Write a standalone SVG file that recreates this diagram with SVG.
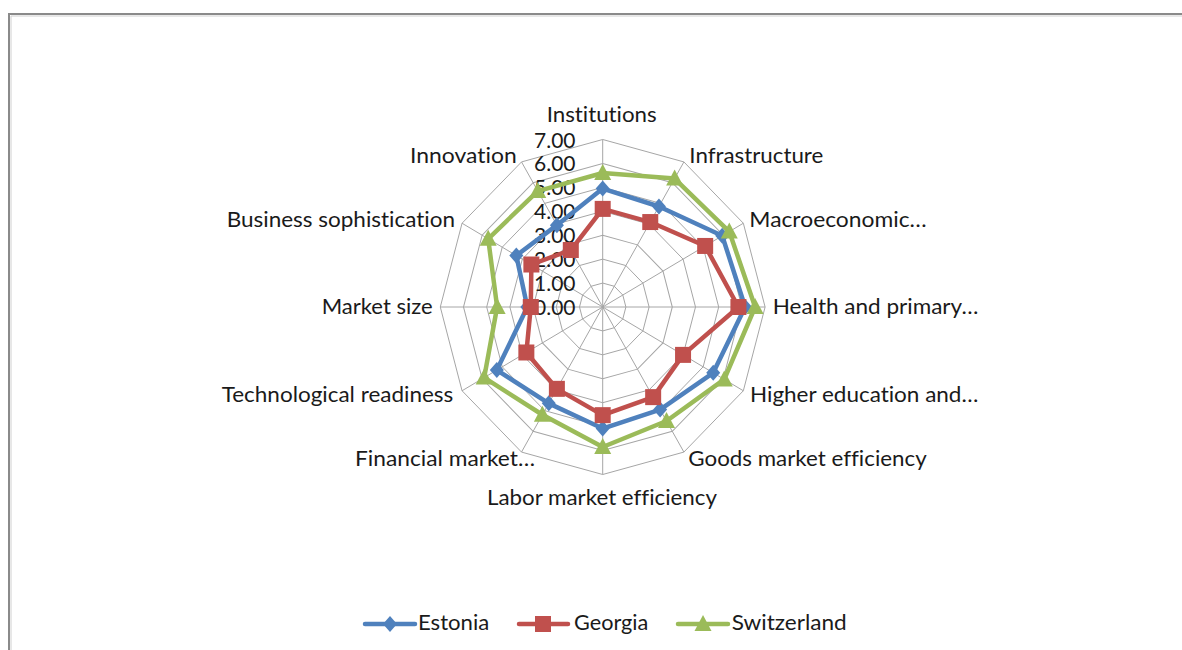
<svg xmlns="http://www.w3.org/2000/svg" xmlns:xlink="http://www.w3.org/1999/xlink" width="1182" height="650" viewBox="0 0 1182 650">
<style>
text{font-family:Lato,"Open Sans","Liberation Sans",sans-serif;font-size:21px;fill:#1a1a1a;font-variant-ligatures:none}
.grid{fill:none;stroke:#a6a6a6;stroke-width:1;vector-effect:non-scaling-stroke}
.est{fill:none;stroke:#4F81BD;stroke-width:4.5;stroke-linejoin:round;stroke-linecap:round}
.geo{fill:none;stroke:#C0504D;stroke-width:4.5;stroke-linejoin:round;stroke-linecap:round}
.swi{fill:none;stroke:#9BBB59;stroke-width:4.5;stroke-linejoin:round;stroke-linecap:round}
</style>
<defs>
<polygon id="ring" class="grid" points="0,-1 .5,-.866 .866,-.5 1,0 .866,.5 .5,.866 0,1 -.5,.866 -.866,.5 -1,0 -.866,-.5 -.5,-.866"/>
<path id="dia" d="M0,-8 L7,0 L0,8 L-7,0Z" fill="#4F81BD"/>
<rect id="sq" x="-8" y="-8" width="16" height="16" fill="#C0504D"/>
<path id="tri" d="M0,-9 L8.5,7 L-8.5,7Z" fill="#9BBB59"/>
</defs>
<rect width="1182" height="650" fill="#fff"/>
<g id="frame">
<path d="M9,650 V14 H1182" fill="none" stroke="#8a8a8a" stroke-width="2"/>
<path d="M11,650 V16 H1182" fill="none" stroke="#d0d0d0" stroke-width="1"/>
</g>
<g id="grid" transform="translate(602.7 307) scale(23.2 23.93)">
<use href="#ring" transform="scale(1)"/>
<use href="#ring" transform="scale(2)"/>
<use href="#ring" transform="scale(3)"/>
<use href="#ring" transform="scale(4)"/>
<use href="#ring" transform="scale(5)"/>
<use href="#ring" transform="scale(6)"/>
<use href="#ring" transform="scale(7)"/>
<path class="grid" d="M0,0 L0,-7 M0,0 L3.5,-6.062 M0,0 L6.062,-3.5 M0,0 L7,0 M0,0 L6.062,3.5 M0,0 L3.5,6.062 M0,0 L0,7 M0,0 L-3.5,6.062 M0,0 L-6.062,3.5 M0,0 L-7,0 M0,0 L-6.062,-3.5 M0,0 L-3.5,-6.062"/>
</g>
<g id="ticks" text-anchor="end">
<text x="575.5" y="315">0.00</text>
<text x="575.5" y="291.1">1.00</text>
<text x="575.5" y="267.1">2.00</text>
<text x="575.5" y="243.2">3.00</text>
<text x="575.5" y="219.3">4.00</text>
<text x="575.5" y="195.4">5.00</text>
<text x="575.5" y="171.4">6.00</text>
<text x="575.5" y="147.5">7.00</text>
</g>
<g id="axis-labels">
<text x="546.7" y="122" textLength="110" lengthAdjust="spacingAndGlyphs">Institutions</text>
<text x="689.3" y="162.7" textLength="134" lengthAdjust="spacingAndGlyphs">Infrastructure</text>
<text x="749.3" y="227.3" textLength="177.4" lengthAdjust="spacingAndGlyphs">Macroeconomic…</text>
<text x="772.7" y="314" textLength="205.6" lengthAdjust="spacingAndGlyphs">Health and primary…</text>
<text x="750" y="401.7" textLength="228.3" lengthAdjust="spacingAndGlyphs">Higher education and…</text>
<text x="688.3" y="465.7" textLength="238.4" lengthAdjust="spacingAndGlyphs">Goods market efficiency</text>
<text x="487" y="505" textLength="230" lengthAdjust="spacingAndGlyphs">Labor market efficiency</text>
<text x="355" y="465.7" textLength="180" lengthAdjust="spacingAndGlyphs">Financial market…</text>
<text x="221.7" y="401.7" textLength="231.6" lengthAdjust="spacingAndGlyphs">Technological readiness</text>
<text x="321.7" y="314" textLength="111" lengthAdjust="spacingAndGlyphs">Market size</text>
<text x="226.7" y="227.3" textLength="228.3" lengthAdjust="spacingAndGlyphs">Business sophistication</text>
<text x="410" y="162.7" textLength="106.7" lengthAdjust="spacingAndGlyphs">Innovation</text>
</g>
<g id="series-estonia">
<polygon class="est" points="602.7,188.55 658.96,206.51 722.24,235.78 745.15,307 713.2,372.84 660.12,409.56 602.7,428.56 548.76,403.35 496.83,370.08 527.3,307 516.31,255.53 556.88,225.16"/>
<use href="#dia" x="602.7" y="188.55"/><use href="#dia" x="658.96" y="206.51"/><use href="#dia" x="722.24" y="235.78"/><use href="#dia" x="745.15" y="307"/><use href="#dia" x="713.2" y="372.84"/><use href="#dia" x="660.12" y="409.56"/><use href="#dia" x="602.7" y="428.56"/><use href="#dia" x="548.76" y="403.35"/><use href="#dia" x="496.83" y="370.08"/><use href="#dia" x="527.3" y="307"/><use href="#dia" x="516.31" y="255.53"/><use href="#dia" x="556.88" y="225.16"/>
</g>
<g id="series-georgia">
<polygon class="geo" points="602.7,208.89 650.26,222.05 705.16,245.95 738.42,307 683.06,354.88 653.16,397.13 602.7,415.16 556.88,388.84 526.36,352.49 530.78,307 531.38,264.51 570.8,250.02"/>
<use href="#sq" x="602.7" y="208.89"/><use href="#sq" x="650.26" y="222.05"/><use href="#sq" x="705.16" y="245.95"/><use href="#sq" x="738.42" y="307"/><use href="#sq" x="683.06" y="354.88"/><use href="#sq" x="653.16" y="397.13"/><use href="#sq" x="602.7" y="415.16"/><use href="#sq" x="556.88" y="388.84"/><use href="#sq" x="526.36" y="352.49"/><use href="#sq" x="530.78" y="307"/><use href="#sq" x="531.38" y="264.51"/><use href="#sq" x="570.8" y="250.02"/>
</g>
<g id="series-switzerland">
<polygon class="swi" points="602.7,172.99 674.62,178.54 729.27,231.59 755.12,307 724.24,379.42 666.5,420.96 602.7,446.99 542.38,414.74 484.17,377.62 497.14,307 488.19,238.77 537.74,191.1"/>
<use href="#tri" x="602.7" y="172.99"/><use href="#tri" x="674.62" y="178.54"/><use href="#tri" x="729.27" y="231.59"/><use href="#tri" x="755.12" y="307"/><use href="#tri" x="724.24" y="379.42"/><use href="#tri" x="666.5" y="420.96"/><use href="#tri" x="602.7" y="446.99"/><use href="#tri" x="542.38" y="414.74"/><use href="#tri" x="484.17" y="377.62"/><use href="#tri" x="497.14" y="307"/><use href="#tri" x="488.19" y="238.77"/><use href="#tri" x="537.74" y="191.1"/>
</g>
<g id="legend">
<line class="est" x1="365" y1="624" x2="415" y2="624"/><use href="#dia" x="390" y="624"/>
<text x="418" y="630" textLength="71.3" lengthAdjust="spacingAndGlyphs">Estonia</text>
<line class="geo" x1="519" y1="624" x2="568" y2="624"/><use href="#sq" x="543" y="624"/>
<text x="574" y="630" textLength="74.3" lengthAdjust="spacingAndGlyphs">Georgia</text>
<line class="swi" x1="678" y1="624" x2="728" y2="624"/><use href="#tri" x="703" y="624"/>
<text x="731.7" y="630" textLength="115" lengthAdjust="spacingAndGlyphs">Switzerland</text>
</g>
</svg>
